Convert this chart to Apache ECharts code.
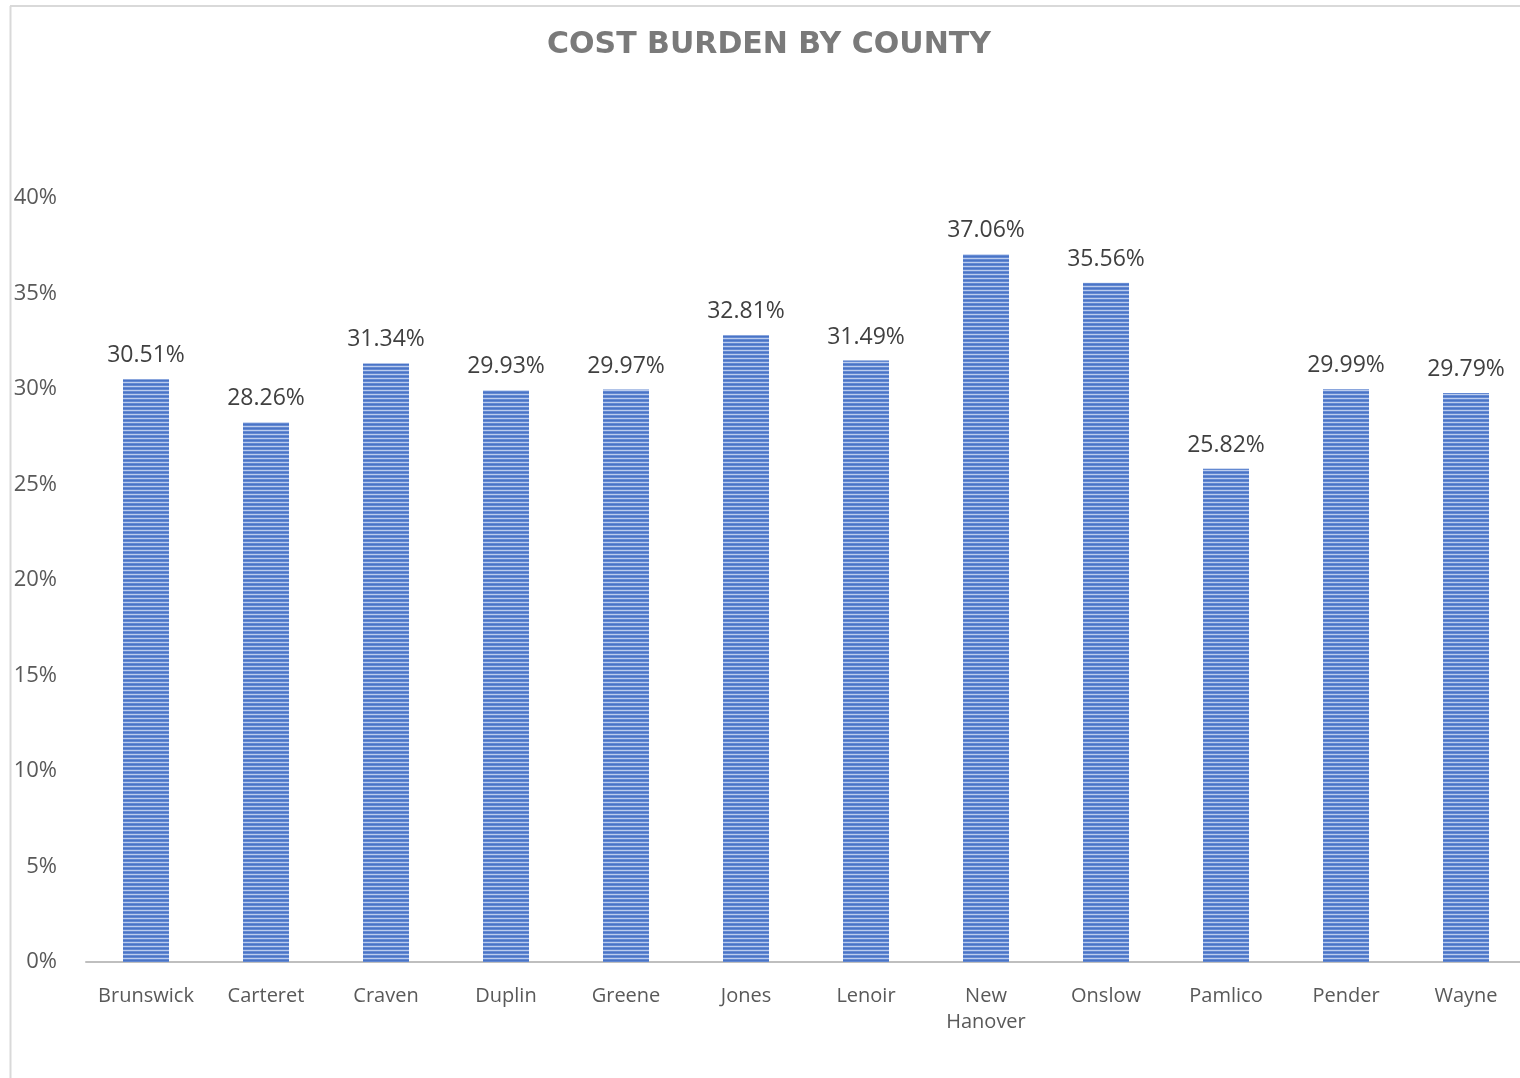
<!DOCTYPE html>
<html>
<head>
<meta charset="utf-8">
<script src="https://cdn.jsdelivr.net/npm/echarts@6/dist/echarts.min.js"></script>
<style>
html,body{margin:0;padding:0;background:#fff;overflow:hidden;}
#chart{width:1530px;height:1078px;}
</style>
</head>
<body>
<div id="chart"></div>
<script>
const titleText = 'COST BURDEN BY COUNTY';
const counties = ['Brunswick','Carteret','Craven','Duplin','Greene','Jones','Lenoir','New\nHanover','Onslow','Pamlico','Pender','Wayne'];
const costBurden = [30.51, 28.26, 31.34, 29.93, 29.97, 32.81, 31.49, 37.06, 35.56, 25.82, 29.99, 29.79];
const yTicks = [0, 5, 10, 15, 20, 25, 30, 35, 40];

// striped fill pattern
const pat = document.createElement('canvas');
pat.width = 4; pat.height = 4;
const pc = pat.getContext('2d');
pc.fillStyle = '#4a74c6'; pc.fillRect(0,0,4,4);
pc.fillStyle = '#6389d2'; pc.fillRect(0,1,4,1);
pc.fillStyle = '#bccdee'; pc.fillRect(0,2,4,1);
pc.fillStyle = '#6389d2'; pc.fillRect(0,3,4,1);

const chart = echarts.init(document.getElementById('chart'));
const font = '"Open Sans", "Liberation Sans", sans-serif';
chart.setOption({
  animation: false,
  backgroundColor: '#fff',
  title: {
    text: titleText,
    left: 764, top: 25, textAlign: 'center',
    textStyle: { fontFamily: '"DejaVu Sans", sans-serif', fontSize: 30, fontWeight: 'bold', color: '#7a7a7a' }
  },
  graphic: [
    { type: 'line', shape: { x1: 10, y1: 6, x2: 1530, y2: 6 }, style: { stroke: '#d9d9d9', lineWidth: 2 } },
    { type: 'line', shape: { x1: 10.5, y1: 6, x2: 10.5, y2: 1078 }, style: { stroke: '#d9d9d9', lineWidth: 2 } }
  ],
  grid: { left: 86, top: 198, width: 1440, height: 764 },
  xAxis: {
    type: 'category',
    data: counties,
    axisLine: { lineStyle: { color: '#bfbfbf', width: 2 } },
    axisTick: { show: false },
    axisLabel: { fontFamily: font, fontSize: 20, color: '#595959', margin: 21, lineHeight: 26, interval: 0 }
  },
  yAxis: {
    type: 'value',
    min: 0, max: 40, interval: 5,
    splitLine: { show: false },
    axisLine: { show: false },
    axisTick: { show: false },
    axisLabel: { fontFamily: font, fontSize: 22, color: '#595959', margin: 29,
      formatter: v => yTicks.includes(v) ? v + '%' : '' }
  },
  series: [{
    type: 'bar',
    data: costBurden,
    barWidth: 46,
    itemStyle: { color: { image: pat, repeat: 'repeat' } },
    label: {
      show: true, position: 'top', distance: 12,
      fontFamily: font, fontSize: 23, color: '#404040',
      formatter: p => p.value.toFixed(2) + '%'
    }
  }]
});
</script>
</body>
</html>
